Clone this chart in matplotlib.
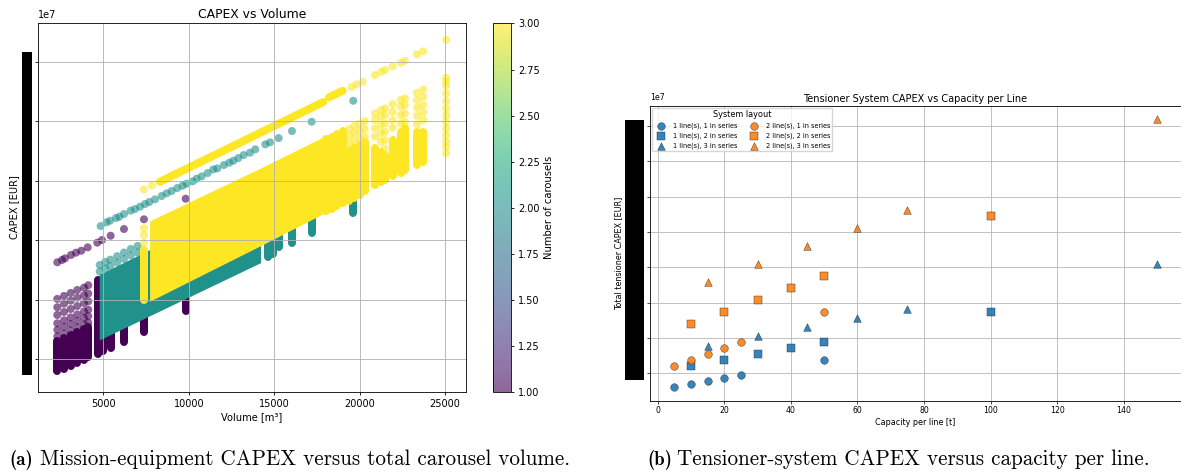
import numpy as np
import matplotlib
matplotlib.use("Agg")
import matplotlib.pyplot as plt
from matplotlib.patches import Rectangle

# ---- left panel data, y values in units of 1e7 EUR ----
# purple = 1 carousel
c1_line_x = [2295, 2570, 2745, 3097, 3390, 3700, 4075, 4637, 4912, 5420, 6200, 7370, 9813]
c1_line_y = [2.625, 2.664, 2.692, 2.748, 2.787, 2.82, 2.877, 2.955, 3.0, 3.072, 3.185, 3.348, 3.694]
c1_col_x = [2295, 2690, 3080, 3465, 3860, 4110, 4700, 5000, 5420, 6200, 7370, 9830]
c1_col_low = [0.79, 0.84, 0.89, 0.94, 0.99, 1.03, 1.08, 1.13, 1.18, 1.29, 1.46, 1.80]
c1_col_high = [1.30, 1.35, 1.40, 1.45, 1.50, 1.53, 2.32, 2.34, 2.0, 2.0, 2.0, 2.3]
c1_sparse_x = [2295] * 6 + [2690] * 6 + [3080] * 6 + [3465] * 6 + [3860] * 6 + [4110] * 6
c1_sparse_y = [2.01, 1.87, 1.74, 1.60, 1.49, 1.38,
               2.06, 1.93, 1.79, 1.65, 1.54, 1.43,
               2.11, 1.98, 1.84, 1.70, 1.59, 1.48,
               2.16, 2.03, 1.89, 1.75, 1.64, 1.53,
               2.20, 2.07, 1.94, 1.80, 1.69, 1.58,
               2.24, 2.10, 1.97, 1.83, 1.72, 1.61]

# teal = 2 carousels
c2_line_x = [4834, 5185, 5381, 5732, 5927, 6200, 6591, 6844, 7137, 7430, 7684, 8015, 8406, 8698, 8991,
             9323, 9635, 9870, 10221, 10455, 10748, 11099, 11431, 11665, 12055, 12368, 12602, 12895,
             13207, 13578, 13890, 14476, 14749, 15257, 16037, 17190, 19625]
c2_line_y = [3.235, 3.297, 3.325, 3.370, 3.392, 3.437, 3.493, 3.521, 3.560, 3.605, 3.639, 3.683, 3.739,
             3.784, 3.824, 3.874, 3.913, 3.947, 3.986, 4.031, 4.070, 4.126, 4.188, 4.204, 4.261, 4.300,
             4.333, 4.378, 4.429, 4.468, 4.524, 4.608, 4.641, 4.714, 4.832, 4.988, 5.341]
c2_block_x = [4750, 14200]
c2_block_low = [1.32, 2.62]
c2_block_high = [2.42, 3.76]
c2_top_x = [4780, 5100, 5400, 5800, 6200, 6600, 7000, 4780, 5100, 5400, 5800, 6200, 6600, 7000]
c2_top_y = [2.58, 2.63, 2.67, 2.73, 2.79, 2.85, 2.90, 2.47, 2.52, 2.56, 2.62, 2.68, 2.74, 2.79]
c2_col_x = [14630, 14950, 15275, 16037, 17190, 19625]
c2_col_low = [2.72, 2.76, 2.89, 2.95, 3.12, 3.45]
c2_col_high = [3.3, 3.3, 3.3, 3.4, 3.6, 3.8]

# yellow = 3 carousels
c3_ridge_x = [[8308, 17870], [18203, 19005]]
c3_ridge_y = [[3.98, 5.319], [5.398, 5.509]]
c3_line_x = [7370, 7840, 19532, 19825, 20176, 20896, 21248, 21482, 21933, 22401, 22653, 23356, 23725, 25071]
c3_line_y = [3.852, 3.919, 5.571, 5.617, 5.66, 5.773, 5.824, 5.857, 5.919, 5.98, 6.013, 6.121, 6.172, 6.366]
c3_block_x = [7700, 14163, 17850]
c3_block_low = [1.97, 2.90, 3.44]
c3_block_high = [3.32, 4.205, 4.73]
c3_col_x = [7370, 18050, 18380, 18700, 19000, 19400, 19700, 20000, 20300,
            20896, 21248, 21482, 21933, 22401, 22653, 23356, 23725]
c3_col_low = [2.0, 3.48, 3.52, 3.57, 3.62, 3.65, 3.70, 3.76, 3.82,
              3.93, 3.98, 4.01, 4.07, 4.12, 4.18, 4.26, 4.32]
c3_col_high = [2.83, 4.70, 4.74, 4.79, 4.84, 4.50, 4.55, 4.60, 4.65,
               4.541, 4.485, 4.43, 4.68, 4.82, 4.88, 4.82, 4.82]
c3_sparse_x = [7370, 7370, 7370,
               19400, 19400, 19400, 19700, 19700, 19700, 20000, 20000, 20000, 20300, 20300, 20300,
               20896, 20896, 20896, 20896, 21248, 21248, 21248, 21248, 21248,
               21482, 21482, 21482, 21482, 21482, 21482, 21933, 21933, 21933, 21933,
               22401, 22401, 22401, 22401, 22653, 22653, 22653, 22653,
               23356, 23356, 23356, 23356, 23356, 23725, 23725, 23725, 23725, 23725,
               25071, 25071, 25071, 25071, 25071, 25071, 25071, 25071, 25071, 25071, 25071, 25071, 25071]
c3_sparse_y = [3.197, 3.084, 2.955,
               4.87, 4.75, 4.62, 4.92, 4.80, 4.67, 4.96, 4.84, 4.71, 5.0, 4.87, 4.74,
               5.129, 5.017, 4.877, 4.737, 5.185, 5.073, 4.933, 4.793, 4.653,
               5.213, 5.101, 4.961, 4.821, 4.681, 4.541, 5.286, 5.157, 5.017, 4.888,
               5.353, 5.241, 5.101, 4.961, 5.381, 5.269, 5.129, 4.989,
               5.476, 5.353, 5.224, 5.09, 4.944, 5.532, 5.409, 5.269, 5.146, 5.017,
               5.728, 5.661, 5.594, 5.465, 5.336, 5.213, 5.101, 4.989, 4.877, 4.765, 4.653, 4.569, 4.457]

# ---- right panel data, y values in units of 1e7 EUR ----
x_l1s1 = [5, 10, 15, 20, 25, 50]
y_l1s1 = [0.604, 0.689, 0.774, 0.859, 0.943, 1.368]
x_l1s2 = [10, 20, 30, 40, 50, 100]
y_l1s2 = [1.206, 1.376, 1.546, 1.715, 1.885, 2.733]
x_l1s3 = [15, 30, 45, 60, 75, 150]
y_l1s3 = [1.78, 2.046, 2.30, 2.555, 2.81, 4.09]
x_l2s1 = [5, 10, 15, 20, 25, 50]
y_l2s1 = [1.198, 1.368, 1.537, 1.715, 1.885, 2.733]
x_l2s2 = [10, 20, 30, 40, 50, 100]
y_l2s2 = [2.40, 2.74, 3.08, 3.42, 3.75, 5.456]
x_l2s3 = [15, 30, 45, 60, 75, 150]
y_l2s3 = [3.58, 4.10, 4.61, 5.116, 5.63, 8.18]

caption_a = "Mission-equipment CAPEX versus total carousel volume."
caption_b = "Tensioner-system CAPEX versus capacity per line."

W, H = 1181, 473
cmap = plt.get_cmap("viridis")
PURPLE, TEAL, YELLOW = cmap(0.0), cmap(0.5), cmap(1.0)
DOT = 8.0 * 72 / 100  # dot diameter in points


def px_axes(left, top, right, bottom):
    return fig.add_axes([left / W, 1 - bottom / H, (right - left) / W, (bottom - top) / H])


def black_bar(left, top, right, bottom):
    fig.add_artist(Rectangle((left / W, 1 - bottom / H), (right - left) / W, (bottom - top) / H,
                             transform=fig.transFigure, color="black", lw=0))


def px_text(x, y, s, **kw):
    return fig.text(x / W, 1 - y / H, s, **kw)


def dots(ax, x, y, n):
    return ax.scatter(x, y, c=[n] * len(x), cmap="viridis", vmin=1, vmax=3, s=DOT ** 2,
                      alpha=0.6, linewidths=0, zorder=1)


def columns(ax, x, low, high, color):
    ax.vlines(x, low, high, colors=[color], linewidth=DOT, capstyle="round", zorder=1)


fig = plt.figure(figsize=(W / 100, H / 100), dpi=100)

# ---- left panel ----
ax = px_axes(38, 23.5, 466, 392)
columns(ax, c1_col_x, c1_col_low, c1_col_high, PURPLE)
dots(ax, c1_sparse_x, c1_sparse_y, 1)
dots(ax, c1_line_x, c1_line_y, 1)

columns(ax, c2_col_x, c2_col_low, c2_col_high, TEAL)
ax.fill_between(c2_block_x, c2_block_low, c2_block_high, color=TEAL, lw=0, zorder=1)
dots(ax, c2_top_x, c2_top_y, 2)
dots(ax, c2_line_x, c2_line_y, 2)

ax.fill_between(c3_block_x, c3_block_low, c3_block_high, color=YELLOW, lw=0, zorder=1)
columns(ax, c3_col_x, c3_col_low, c3_col_high, YELLOW)
for rx, ry in zip(c3_ridge_x, c3_ridge_y):
    ax.plot(rx, ry, color=YELLOW, lw=DOT, solid_capstyle="round", zorder=1)
dots(ax, c3_sparse_x, c3_sparse_y, 3)
sc = dots(ax, c3_line_x, c3_line_y, 3)

ax.set_xlim(1165, 26230)
ax.set_ylim(0.445, 6.64)
ax.set_xticks([5000, 10000, 15000, 20000, 25000])
ax.set_yticks([1, 2, 3, 4, 5, 6])
ax.set_yticklabels([])
ax.tick_params(labelsize=7.0, length=2.5, width=0.6, pad=2.5)
ax.grid(True, linewidth=0.6)
for s in ax.spines.values():
    s.set_linewidth(0.6)
ax.set_title("CAPEX vs Volume", fontsize=8.9, pad=4)
ax.set_xlabel("Volume [m³]", fontsize=7.1, labelpad=2)

cax = px_axes(492.7, 23.5, 511.3, 392)
cb = fig.colorbar(sc, cax=cax)
cb.set_ticks([1, 1.25, 1.5, 1.75, 2, 2.25, 2.5, 2.75, 3])
cb.ax.tick_params(labelsize=7.0, length=2.5, width=0.6, pad=2.5)
cb.outline.set_linewidth(0.6)
cb.set_label("Number of carousels", fontsize=7.2, labelpad=3)

px_text(38, 20, "1e7", fontsize=7.0, ha="left", va="bottom")
px_text(14, 207, "CAPEX [EUR]", fontsize=7.1, rotation=90, ha="center", va="center")
black_bar(22.3, 52.3, 32, 375.3)

# ---- right panel ----
ax2 = px_axes(649.7, 105.7, 1180.6, 400.7)
BLUE, ORANGE = "#1f77b4", "#ff7f0e"
style = dict(s=30, edgecolors="#333333", linewidths=0.35, alpha=0.9, zorder=3)
ax2.scatter(x_l1s1, y_l1s1, color=BLUE, marker="o", label="1 line(s), 1 in series", **style)
ax2.scatter(x_l1s2, y_l1s2, color=BLUE, marker="s", label="1 line(s), 2 in series", **style)
ax2.scatter(x_l1s3, y_l1s3, color=BLUE, marker="^", label="1 line(s), 3 in series", **style)
ax2.scatter(x_l2s1, y_l2s1, color=ORANGE, marker="o", label="2 line(s), 1 in series", **style)
ax2.scatter(x_l2s2, y_l2s2, color=ORANGE, marker="s", label="2 line(s), 2 in series", **style)
ax2.scatter(x_l2s3, y_l2s3, color=ORANGE, marker="^", label="2 line(s), 3 in series", **style)

ax2.set_xlim(-2.4, 157.1)
ax2.set_ylim(0.225, 8.57)
ax2.set_xticks([0, 20, 40, 60, 80, 100, 120, 140])
ax2.set_yticks([1, 2, 3, 4, 5, 6, 7, 8])
ax2.set_yticklabels([])
ax2.tick_params(labelsize=5.6, length=2, width=0.5, pad=2)
ax2.grid(True, linewidth=0.55)
for s in ax2.spines.values():
    s.set_linewidth(0.6)
ax2.set_title("Tensioner System CAPEX vs Capacity per Line", fontsize=7.0, pad=3)
ax2.set_xlabel("Capacity per line [t]", fontsize=5.8, labelpad=2)
ax2.legend(title="System layout", ncol=2, fontsize=4.7, title_fontsize=5.9, loc="upper left",
           columnspacing=1.6, handletextpad=0.8, labelspacing=0.55, borderpad=0.35,
           bbox_to_anchor=(0.002, 0.998), borderaxespad=0.2)

px_text(650, 102.5, "1e7", fontsize=5.6, ha="left", va="bottom")
px_text(619, 253, "Total tensioner CAPEX [EUR]", fontsize=5.8, rotation=90, ha="center", va="center")
black_bar(625.3, 120.3, 644.3, 380.3)

# ---- captions ----
px_text(9, 465, "(a)", family="cmb10", fontsize=13.5, ha="left", va="baseline")
px_text(40, 465, caption_a, family="cmr10", fontsize=15.2, ha="left", va="baseline")
px_text(647, 465, "(b)", family="cmb10", fontsize=13.5, ha="left", va="baseline")
px_text(677, 465, caption_b, family="cmr10", fontsize=15.2, ha="left", va="baseline")

fig.savefig("out.png", dpi=100)
